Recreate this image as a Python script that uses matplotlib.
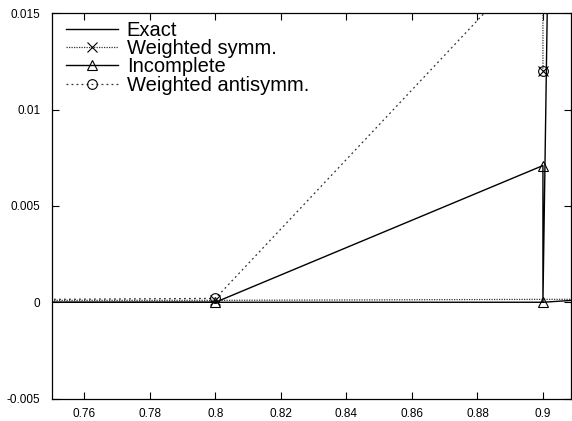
import matplotlib
matplotlib.use("Agg")
import matplotlib.pyplot as plt
import numpy as np

plt.rcParams['font.family'] = ['Liberation Sans', 'DejaVu Sans']

nan = np.nan

# Exact solution
exact_x = [0.7, 0.8, 0.9, 1.0]
exact_y = [0.0, 0.0, 0.0, 0.0011]

# Weighted symmetric (branches separated by nan)
wsym_x = [0.7, 0.8, 1.0, nan, 0.9, 0.9]
wsym_y = [0.0001, 0.0001, 0.0002, nan, 0.012, 0.06]

# Incomplete
inc_x = [0.7, 0.8, 0.9, 0.9, 1.0]
inc_y = [0.0, 0.0, 0.0071, 0.0, 1.15]

# Weighted antisymmetric
wanti_x = [0.7, 0.8, 1.0, nan, 0.9]
wanti_y = [0.0001, 0.0002, 0.0363, nan, 0.012]

xticks = [0.76, 0.78, 0.8, 0.82, 0.84, 0.86, 0.88, 0.9]
yticks = [-0.005, 0, 0.005, 0.01, 0.015]
ytick_labels = ['-0.005', '0', '0.005', '0.01', '0.015']

fig = plt.figure(figsize=(5.72, 4.21), dpi=100)
ax = fig.add_axes([0.0904, 0.0534, 0.9086, 0.9146])

ax.plot(exact_x, exact_y, color='black', lw=1.0, label='Exact')
ax.plot(wsym_x, wsym_y, color='#333333', lw=0.9, linestyle=(0, (1, 1)),
        marker='x', markersize=7, mew=0.8, mec='black', label='Weighted symm.')
ax.plot(inc_x, inc_y, color='black', lw=1.0, marker='^', markersize=7,
        mfc='none', mew=0.8, label='Incomplete')
ax.plot(wanti_x, wanti_y, color='#333333', lw=0.9, linestyle=(0, (1.5, 2.5)),
        marker='o', markersize=7, mfc='none', mew=0.8, mec='black',
        label='Weighted antisymm.')

ax.set_xlim(0.75, 0.9087)
ax.set_ylim(-0.005, 0.015)
ax.set_xticks(xticks)
ax.set_xticklabels([f'{t:g}' for t in xticks])
ax.set_yticks(yticks)
ax.set_yticklabels(ytick_labels)
ax.tick_params(direction='in', length=5, width=0.8, top=True, right=True,
               labelsize=8.5)
ax.tick_params(axis='x', pad=7)
ax.tick_params(axis='y', pad=8)
for s in ax.spines.values():
    s.set_linewidth(0.9)

leg = ax.legend(loc='upper left', frameon=False, fontsize=14.5, handlelength=2.6,
                handletextpad=0.42, labelspacing=-0.04, borderaxespad=0.3,
                bbox_to_anchor=(0.0, 1.017))

fig.savefig('out.png', dpi=100)
